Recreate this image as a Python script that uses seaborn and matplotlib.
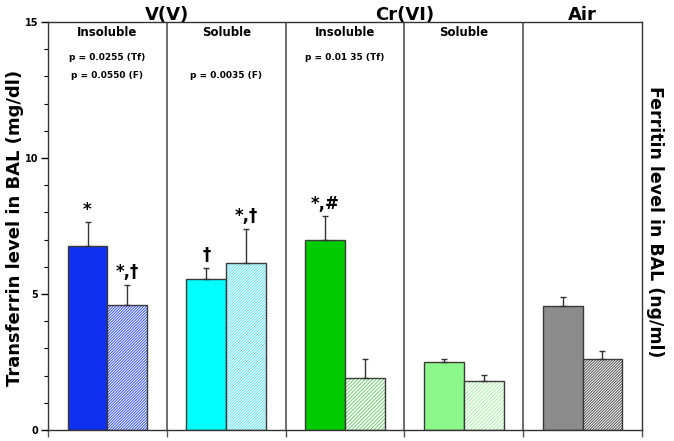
import pandas as pd
import numpy as np
import seaborn as sns
import matplotlib.pyplot as plt
from matplotlib.patches import Rectangle

# Data
groups = ["V ins", "V sol", "Cr ins", "Cr sol", "Air"]
tf_values = [6.75, 5.55, 6.99, 2.50, 4.57]     # transferrin (solid bars)
tf_errors = [0.88, 0.42, 0.86, 0.10, 0.32]
f_values = [4.61, 6.15, 1.92, 1.79, 2.60]      # ferritin (hatched bars)
f_errors = [0.73, 1.25, 0.68, 0.22, 0.29]

solid_colors = ["#1030F0", "#00FFFF", "#00CC00", "#8CF88C", "#8C8C8C"]
hatch_colors = ["#3050F0", "#60E0F0", "#70D070", "#A8F0A8", "#505050"]
hatch_styles = ["/" * 12, "/" * 12, "/" * 9, "/" * 9, "/" * 12]

tf_marks = ["*", "\u2020", "*,#", "", ""]
f_marks = ["*,\u2020", "*,\u2020", "", "", ""]

sub_labels = ["Insoluble", "Soluble", "Insoluble", "Soluble", ""]
p_lines = [["p = 0.0255 (Tf)", "p = 0.0550 (F)"],
           ["", "p = 0.0035 (F)"],
           ["p = 0.01 35 (Tf)", ""],
           ["", ""],
           ["", ""]]
top_labels = [("V(V)", 0.5), ("Cr(VI)", 2.5), ("Air", 4.0)]

df = pd.DataFrame({
    "group": groups * 2,
    "measure": ["Tf"] * len(groups) + ["F"] * len(groups),
    "value": tf_values + f_values,
})

sns.set_theme(style="ticks")
plt.rcParams["font.family"] = ["DejaVu Sans"]
plt.rcParams["font.weight"] = "bold"
plt.rcParams["hatch.linewidth"] = 0.7
plt.rcParams["text.color"] = "black"
plt.rcParams["ytick.color"] = "black"
plt.rcParams["xtick.color"] = "black"

fig = plt.figure(figsize=(6.74, 4.41), dpi=100)
ax = fig.add_axes([48 / 674, 11 / 441, 594 / 674, 408 / 441])

sns.barplot(data=df, x="group", y="value", hue="measure", order=groups,
            hue_order=["Tf", "F"], width=0.67, gap=0, legend=False, ax=ax,
            errorbar=None)

edge = "#3a3a3a"
tf_bars = ax.containers[0]
f_bars = ax.containers[1]
for i, bar in enumerate(tf_bars):
    bar.set_facecolor(solid_colors[i])
    bar.set_edgecolor(edge)
    bar.set_linewidth(1.0)
for i, bar in enumerate(f_bars):
    bar.set_facecolor("white")
    bar.set_edgecolor(hatch_colors[i])
    bar.set_hatch(hatch_styles[i])
    bar.set_linewidth(0)
    # dark outline on top of the hatched bar
    ax.add_patch(Rectangle((bar.get_x(), bar.get_y()), bar.get_width(), bar.get_height(),
                           fill=False, edgecolor=edge, linewidth=1.0, zorder=bar.get_zorder() + 0.1))

# upward error bars and significance marks
for bars, vals, errs, marks in [(tf_bars, tf_values, tf_errors, tf_marks),
                                (f_bars, f_values, f_errors, f_marks)]:
    xs = [b.get_x() + b.get_width() / 2 for b in bars]
    ax.errorbar(xs, vals, yerr=[np.zeros(len(vals)), errs], fmt="none",
                ecolor="#333333", elinewidth=1.0, capsize=2.5, capthick=1.0, zorder=5)
    for x, v, e, m in zip(xs, vals, errs, marks):
        if m:
            ax.text(x, v + e + 0.12, m, ha="center", va="bottom", fontsize=12,
                    fontweight="bold", color="black")

# panel dividers
for x in [0.5, 1.5, 2.5, 3.5]:
    ax.axvline(x, color="#555555", lw=1.2, zorder=0)

ax.set_xlim(-0.5, 4.5)
ax.set_ylim(0, 15)
ax.set_xticks([-0.5, 0.5, 1.5, 2.5, 3.5, 4.5])
ax.set_xticklabels([])
ax.tick_params(axis="x", length=5, width=1.0, color="#555555")
ax.set_yticks([0, 5, 10, 15])
ax.set_yticks(np.arange(0, 16, 1), minor=True)
ax.tick_params(axis="y", which="major", length=5, width=1.0, labelsize=7, pad=2)
ax.tick_params(axis="y", which="minor", length=3, width=0.8)
for lab in ax.get_yticklabels():
    lab.set_fontweight("bold")
ax.set_xlabel("")
ax.set_ylabel("")
for s in ax.spines.values():
    s.set_visible(True)
    s.set_linewidth(1.0)
    s.set_color("#333333")

# panel texts
for i in range(len(groups)):
    if sub_labels[i]:
        ax.text(i, 14.63, sub_labels[i], ha="center", va="center", fontsize=8.5, fontweight="bold")
    for j, line in enumerate(p_lines[i]):
        if line:
            ax.text(i, 13.68 - j * 0.63, line, ha="center", va="center", fontsize=6.5, fontweight="bold")

for label, x in top_labels:
    ax.text(x, 14.93, label, ha="center", va="bottom", fontsize=13, fontweight="bold")

fig.text(0.022, 1 - 228 / 441, "Transferrin level in BAL (mg/dl)", rotation=90,
         ha="center", va="center", fontsize=13, fontweight="bold")
fig.text(0.972, 1 - 222 / 441, "Ferritin level in BAL (ng/ml)", rotation=-90,
         ha="center", va="center", fontsize=12.5, fontweight="bold")

fig.savefig("out.png", dpi=100)
